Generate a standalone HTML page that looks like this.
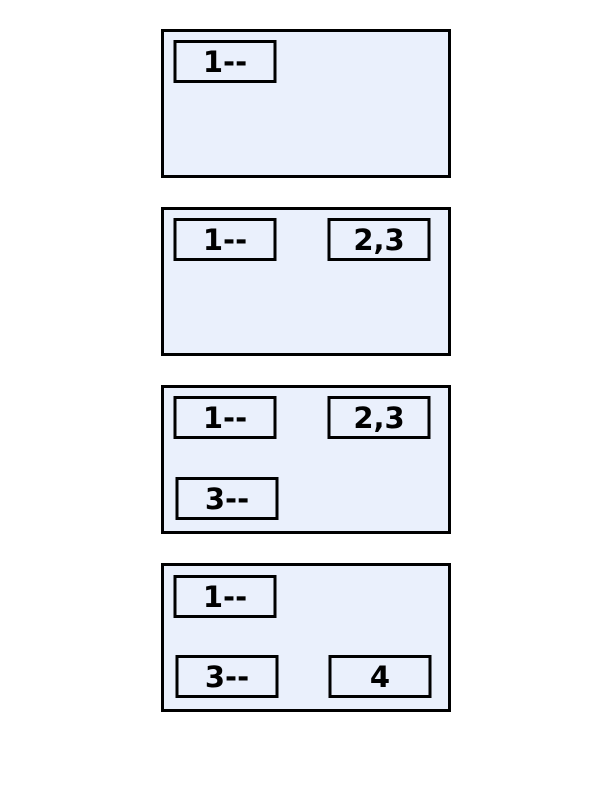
<!DOCTYPE html>
<html><head><meta charset="utf-8"><style>body{margin:0;background:#fff}svg{display:block}text{font-family:"DejaVu Sans","Liberation Sans",sans-serif;font-weight:bold;font-size:29px}</style></head>
<body>
<svg width="612" height="792">
<g fill="#eaf0fc" stroke="#000" stroke-width="3">
<rect x="162.5" y="30.5" width="287" height="146"/>
<rect x="162.5" y="208.5" width="287" height="146"/>
<rect x="162.5" y="386.5" width="287" height="146"/>
<rect x="162.5" y="564.5" width="287" height="146"/>
<rect x="175" y="41.5" width="100" height="40"/>
<rect x="175" y="219.5" width="100" height="40"/>
<rect x="329" y="219.5" width="100" height="40"/>
<rect x="175" y="397.5" width="100" height="40"/>
<rect x="329" y="397.5" width="100" height="40"/>
<rect x="177" y="478.5" width="100" height="40"/>
<rect x="175" y="576.5" width="100" height="40"/>
<rect x="177" y="656.5" width="100" height="40"/>
<rect x="330" y="656.5" width="100" height="40"/>
</g>
<g text-anchor="middle" fill="#000">
<text x="225" y="72">1--</text>
<text x="225" y="250">1--</text>
<text x="379" y="250">2,3</text>
<text x="225" y="428">1--</text>
<text x="379" y="428">2,3</text>
<text x="227" y="509">3--</text>
<text x="225" y="607">1--</text>
<text x="227" y="687">3--</text>
<text x="380" y="687">4</text>
</g>
</svg>
</body></html>
